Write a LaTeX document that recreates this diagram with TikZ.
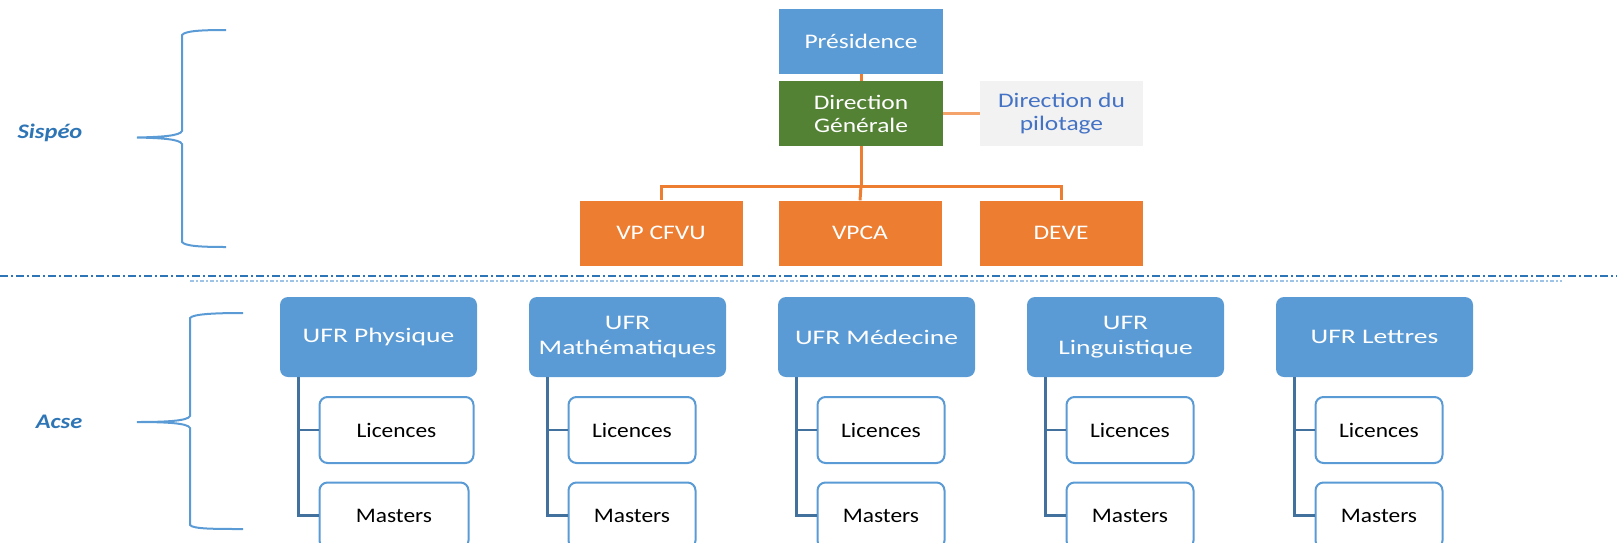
\documentclass[tikz,border=0pt]{standalone}
\usepackage{fontspec}
\setmainfont{Carlito}
\newfontfamily\topfont[FakeStretch=1.23]{Carlito}
\newfontfamily\ufrfont[FakeStretch=1.33]{Carlito}
\newfontfamily\subfont[FakeStretch=1.13]{Carlito}
\newfontfamily\lblfont[FakeStretch=1.18]{Carlito}
\definecolor{ufrblue}{HTML}{5B9BD5}
\definecolor{dggreen}{HTML}{548235}
\definecolor{vporange}{HTML}{ED7D31}
\definecolor{orangelight}{HTML}{F4A46A}
\definecolor{pilotfill}{HTML}{F2F2F2}
\definecolor{pilottext}{HTML}{4472C4}
\definecolor{lbltext}{HTML}{2E75B6}
\definecolor{linkblue}{HTML}{41719C}
\definecolor{sepblue}{HTML}{2E75B6}
\definecolor{seplight}{HTML}{9DC3E6}
\begin{document}
\begin{tikzpicture}[x=1pt,y=-1pt,
  topbox/.style={minimum width=164pt, minimum height=65pt, inner sep=0pt, align=center,
    font=\topfont\fontsize{20.7}{23}\selectfont, text=white},
  ufrbox/.style={fill=ufrblue, rounded corners=8pt, minimum width=197pt, minimum height=80pt,
    inner sep=0pt, align=center, font=\ufrfont\fontsize{20.7}{25}\selectfont, text=white},
  subbox/.style={draw=ufrblue, line width=2pt, fill=white, rounded corners=8pt, minimum height=66pt,
    inner sep=0pt, align=center, font=\subfont\fontsize{20.7}{23}\selectfont, text=black},
  lbl/.style={font=\lblfont\bfseries\itshape\fontsize{20.7}{23}\selectfont, text=lbltext, inner sep=0pt},
  brace/.style={draw=ufrblue, line width=2pt},
  oline/.style={draw=vporange, line width=3pt},
  ufrline/.style={draw=linkblue, line width=2.5pt}
]
\useasboundingbox (0,0) rectangle (1617,542);

% separator
\draw[sepblue, line width=1.5pt, dash pattern=on 8pt off 3pt on 2pt off 3pt] (0,276) -- (1617,276);
\draw[seplight, line width=1.5pt, dash pattern=on 4pt off 2pt on 2pt off 2pt] (190,281) -- (1562,281);

% braces and labels
\draw[brace] (226,30) .. controls (200,30) and (185,31) .. (182,35) -- (182,131)
  .. controls (180,136) and (160,137) .. (137,137.5)
  .. controls (160,138) and (180,139) .. (182,144) -- (182,242)
  .. controls (185,246) and (200,247) .. (226,247);
\draw[brace] (243,313) .. controls (215,313) and (193,314) .. (190,318) -- (190,416)
  .. controls (188,421) and (165,422) .. (137,422)
  .. controls (165,422) and (188,423) .. (190,428) -- (190,525)
  .. controls (193,529) and (215,529) .. (243,529);
\node[lbl] (sispeo) at (50,133) {Sispéo};
\node[lbl] (acse) at (59,422) {Acse};

% top part
\node[topbox, fill=ufrblue] (pres) at (861,41.5) {Présidence};
\node[topbox, fill=dggreen] (dg) at (861,113.5) {Direction\\Générale};
\node[topbox, fill=pilotfill, text=pilottext, minimum width=163pt] (pilot) at (1061.5,113.5) {Direction du\\pilotage};
\node[topbox, fill=vporange, minimum width=163pt] (vp1) at (661,233) {VP CFVU};
\node[topbox, fill=vporange, minimum width=163pt] (vpca) at (860,233) {VPCA};
\node[topbox, fill=vporange, minimum width=163pt] (deve) at (1061,233) {DEVE};
\coordinate (bus) at (861,186);
\draw[oline] (dg.north) -- (pres.south);
\draw[oline, draw=orangelight] (dg.east) -- (pilot.west);
\draw[oline] (dg.south) -- (bus) -| (vp1.north);
\draw[oline] (bus) -| (deve.north);
\draw[oline] (bus) -- (vpca.north);

% UFRs
\node[ufrbox] (u1) at (378.5,337) {UFR Physique};
\node[ufrbox] (u2) at (627.5,337) {UFR\\Mathématiques};
\node[ufrbox] (u3) at (876.5,337) {UFR Médecine};
\node[ufrbox] (u4) at (1125.5,337) {UFR\\Linguistique};
\node[ufrbox] (u5) at (1374.5,337) {UFR Lettres};

\foreach \i in {1,...,5} {
  \pgfmathsetmacro\xl{280+249*(\i-1)+38.5}
  \ifnum\i=1 \def\lw{154}\def\mw{149}\else\def\lw{127}\def\mw{127}\fi
  \node[subbox, minimum width=\lw pt, anchor=west] (l\i) at (\xl,430) {Licences};
  \node[subbox, minimum width=\mw pt, anchor=west] (m\i) at (\xl,515.5) {Masters};
  \draw[ufrline] ([xshift=18.5pt]u\i.south west) |- (l\i.west);
  \draw[ufrline] ([xshift=18.5pt]u\i.south west) |- (m\i.west);
}
\end{tikzpicture}
\end{document}
